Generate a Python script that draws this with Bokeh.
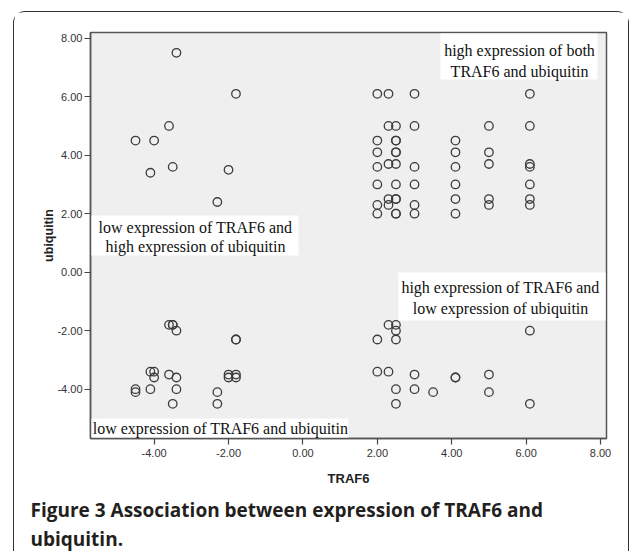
from bokeh.plotting import figure
from bokeh.models import Range1d, Label, BoxAnnotation, FixedTicker, ColumnDataSource, Title
from bokeh.embed import file_html
from bokeh.resources import INLINE

# ---------------- data ----------------
# high TRAF6, high ubiquitin
hh_traf6 = [2.0, 2.3, 3.0, 6.1,
            2.3, 2.5, 3.0, 5.0, 6.1,
            2.0, 2.5, 2.5, 4.1,
            2.0, 2.5, 2.5, 4.1, 5.0,
            2.3, 2.5, 5.0, 6.1,
            2.0, 3.0, 4.1, 6.1,
            2.0, 2.5, 3.0, 4.1, 6.1,
            2.3, 2.5, 2.5, 4.1, 5.0, 6.1,
            2.0, 2.3, 3.0, 5.0, 6.1,
            2.0, 2.5, 2.5, 3.0, 4.1]
hh_ubiq = [6.1, 6.1, 6.1, 6.1,
           5.0, 5.0, 5.0, 5.0, 5.0,
           4.5, 4.5, 4.5, 4.5,
           4.1, 4.1, 4.1, 4.1, 4.1,
           3.7, 3.7, 3.7, 3.7,
           3.6, 3.6, 3.6, 3.6,
           3.0, 3.0, 3.0, 3.0, 3.0,
           2.5, 2.5, 2.5, 2.5, 2.5, 2.5,
           2.3, 2.3, 2.3, 2.3, 2.3,
           2.0, 2.0, 2.0, 2.0, 2.0]
# low TRAF6, high ubiquitin
lh_traf6 = [-3.4, -1.8, -3.6, -4.5, -4.0, -4.1, -3.5, -2.0, -2.3]
lh_ubiq = [7.5, 6.1, 5.0, 4.5, 4.5, 3.4, 3.6, 3.5, 2.4]
# high TRAF6, low ubiquitin
hl_traf6 = [2.3, 2.5, 2.5, 6.1, 2.0, 2.5, 2.0, 2.3, 3.0, 5.0, 4.1, 4.1,
            2.5, 3.0, 3.5, 5.0, 2.5, 6.1]
hl_ubiq = [-1.8, -1.8, -2.0, -2.0, -2.3, -2.3, -3.4, -3.4, -3.5, -3.5, -3.6, -3.6,
           -4.0, -4.0, -4.1, -4.1, -4.5, -4.5]
# low TRAF6, low ubiquitin
ll_traf6 = [-3.6, -3.5, -3.5, -3.4, -1.8, -1.8, -4.1, -4.0, -4.0, -3.6, -3.4,
            -4.5, -4.5, -4.1, -3.4, -3.5, -2.3, -2.3, -2.0, -2.0, -1.8, -1.8]
ll_ubiq = [-1.8, -1.8, -1.8, -2.0, -2.3, -2.3, -3.4, -3.4, -3.6, -3.5, -3.6,
           -4.0, -4.1, -4.0, -4.0, -4.5, -4.1, -4.5, -3.5, -3.6, -3.5, -3.6]

x_ticks = [-4, -2, 0, 2, 4, 6, 8]
x_tick_labels = ["-4.00", "-2.00", "0.00", "2.00", "4.00", "6.00", "8.00"]
y_ticks = [-4, -2, 0, 2, 4, 6, 8]
y_tick_labels = ["-4.00", "-2.00", "0.00", "2.00", "4.00", "6.00", "8.00"]

x_label = "TRAF6"
y_label = "ubiquitin"
quadrant_notes = [
    ["high expression of both", "TRAF6 and ubiquitin"],
    ["low expression of TRAF6 and", "high expression of ubiquitin"],
    ["high expression of TRAF6 and", "low expression of ubiquitin"],
    ["low expression of TRAF6 and ubiquitin"],
]
caption_lines = ["Figure 3 Association between expression of TRAF6 and", "ubiquitin."]

# ---------------- layout ----------------
XMIN, XMAX = -5.71, 8.16
YMIN, YMAX = -5.685, 8.195
FL, FR, FT, FB = 90, 606, 32, 438   # frame edges in page pixels
BW = 1.5                            # outer border width
OX, OY = 13 + BW, 11 + BW           # page position of canvas origin
W = int(631 - OX)
H = int(553 - OY)


def px2x(px):
    return XMIN + (px - FL) / (FR - FL) * (XMAX - XMIN)


def px2y(py):
    return YMAX - (py - FT) / (FB - FT) * (YMAX - YMIN)


p = figure(width=W, height=H, output_backend="svg", toolbar_location=None,
           x_range=Range1d(XMIN, XMAX), y_range=Range1d(YMIN, YMAX),
           min_border_left=int(round(FL - OX)), min_border_right=int(round(W - (FR - OX))),
           min_border_top=int(round(FT - OY)), min_border_bottom=int(round(H - (FB - OY))),
           margin=(11, 0, 0, 13))
p.styles = {"border-top": f"{BW}px solid #333333", "border-left": f"{BW}px solid #333333",
            "border-right": f"{BW}px solid #333333", "border-radius": "12px 12px 0 0"}
p.background_fill_color = "#efefef"
p.border_fill_color = "white"
p.outline_line_color = "#555555"
p.outline_line_width = 1.5
p.grid.visible = False

for ax, ticks, labels in ((p.xaxis, x_ticks, x_tick_labels), (p.yaxis, y_ticks, y_tick_labels)):
    ax.ticker = FixedTicker(ticks=ticks)
    ax.major_label_overrides = {t: l for t, l in zip(ticks, labels)}
    ax.minor_tick_line_color = None
    ax.major_tick_in = 0
    ax.major_tick_out = 6
    ax.major_tick_line_color = "#444444"
    ax.major_tick_line_width = 1.2
    ax.axis_line_color = "#555555"
    ax.axis_line_width = 1.5
    ax.major_label_text_font = "Liberation Sans"
    ax.major_label_text_font_size = "11px"
    ax.major_label_text_color = "#333333"
    ax.axis_label_text_font = "Liberation Sans"
    ax.axis_label_text_font_style = "bold"
    ax.axis_label_text_color = "#222222"

p.xaxis.major_label_standoff = 4
p.yaxis.major_label_standoff = 2
p.xaxis.axis_label = x_label
p.xaxis.axis_label_text_font_size = "13px"
p.xaxis.axis_label_standoff = 11
p.yaxis.axis_label = y_label
p.yaxis.axis_label_text_font_size = "12.5px"
p.yaxis.axis_label_standoff = -2

all_x = hh_traf6 + lh_traf6 + hl_traf6 + ll_traf6
all_y = hh_ubiq + lh_ubiq + hl_ubiq + ll_ubiq
src = ColumnDataSource(dict(x=all_x, y=all_y))
p.scatter("x", "y", source=src, marker="circle", size=8.5, fill_color=None,
          line_color="#3c3c3c", line_width=1.3)

# annotation boxes (page pixel boxes) and text lines
boxes = [
    ((440, 597, 33, 79), 519, [50, 71]),
    ((91, 298, 215, 255), 195, [227, 246]),
    ((398, 605, 272, 320), 500, [287, 308]),
    ((91, 348, 418, 437), 220, [428]),
]
for (l, r, t, b), cx, ys in boxes:
    p.add_layout(BoxAnnotation(left=px2x(l), right=px2x(r), top=px2y(t), bottom=px2y(b),
                               fill_color="white", fill_alpha=1.0, line_color=None))
for ((l, r, t, b), cx, ys), note in zip(boxes, quadrant_notes):
    for yy, line in zip(ys, note):
        p.add_layout(Label(x=px2x(cx), y=px2y(yy), text=line, text_align="center",
                           text_baseline="middle", text_font="Liberation Serif",
                           text_font_size="16px", text_color="#111111"))

# caption, as titles below the x axis
for i, line in enumerate(caption_lines):
    p.add_layout(Title(text=line, align="left", offset=30 - FL,
                       text_font="Open Sans", text_font_size="19px", text_font_style="bold",
                       text_color="#231f20", standoff=12 if i == 0 else -9), "below")

open("out.html", "w").write(file_html(p, INLINE))
